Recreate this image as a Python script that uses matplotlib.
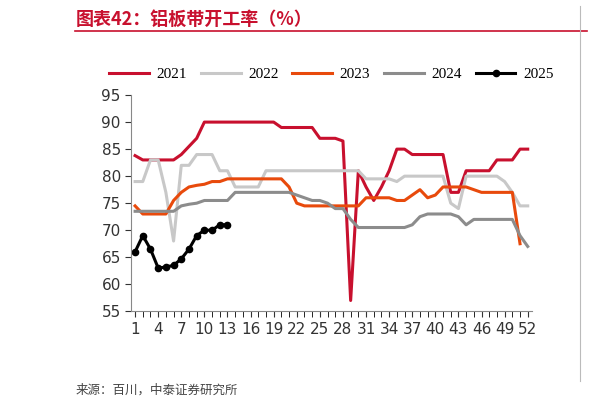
import numpy as np
import matplotlib
matplotlib.use("Agg")
import matplotlib.pyplot as plt
from matplotlib.lines import Line2D

weeks = list(range(1, 53))
nan = np.nan
s2021 = [83.8,83,83,83,83,83,84,85.5,87,90,90,90,90,90,90,90,90,90,90,89,89,89,89,89,87,87,87,86.5,57,81,78,75.5,78,81,85,85,84,84,84,84,84,77,77,81,81,81,81,83,83,83,85,85]
s2022 = [79,79,83,83,77,68,82,82,84,84,84,81,81,78,78,78,78,81,81,81,81,81,81,81,81,81,81,81,81,81,79.5,79.5,79.5,79.5,79,80,80,80,80,80,80,75,74,80,80,80,80,80,79,77,74.5,74.5]
s2023 = [74.5,73,73,73,73,75.5,77,78,78.3,78.5,79,79,79.5,79.5,79.5,79.5,79.5,79.5,79.5,79.5,78,75,74.5,74.5,74.5,74.5,74.5,74.5,74.5,74.5,76,76,76,76,75.5,75.5,76.5,77.5,76,76.5,78,78,78,78,77.5,77,77,77,77,77,67.5,nan]
s2024 = [73.5,73.5,73.5,73.5,73.5,73.5,74.5,74.8,75,75.5,75.5,75.5,75.5,77,77,77,77,77,77,77,77,76.5,76,75.5,75.5,75,74,74,72,70.5,70.5,70.5,70.5,70.5,70.5,70.5,71,72.5,73,73,73,73,72.5,71,72,72,72,72,72,72,69,67]
s2025 = [66,69,66.5,63,63.2,63.5,64.7,66.5,69,70,70,71,71]
xticks = list(range(1, 53, 3))

fig = plt.figure(figsize=(6.02, 4.08), dpi=100)
ax = fig.add_axes([0.218, 0.237, 0.665, 0.53])
ax.plot(weeks, s2021, color="#C8102E", lw=2.2, label="2021")
ax.plot(weeks, s2022, color="#C8C8C8", lw=2.2, label="2022")
ax.plot(weeks, s2023, color="#E84A0C", lw=2.2, label="2023")
ax.plot(weeks, s2024, color="#8C8C8C", lw=2.2, label="2024")
ax.plot(weeks[:len(s2025)], s2025, color="black", lw=2.2, marker="o", ms=4.5, label="2025")
ax.set_ylim(55, 95)
ax.set_yticks(range(55, 96, 5))
ax.set_xlim(0.5, 52.5)
ax.set_xticks(xticks)
ax.set_xticks(weeks, minor=True)
ax.tick_params(axis="both", labelsize=11, colors="#333333", length=4)
ax.tick_params(axis="x", which="minor", length=4)
for s in ["top", "right"]:
    ax.spines[s].set_visible(False)
for s in ["left", "bottom"]:
    ax.spines[s].set_color("#888888")
ax.legend(ncol=5, loc="lower center", bbox_to_anchor=(0.5, 1.0), frameon=False,
          handlelength=2.6, columnspacing=0.9, handletextpad=0.5,
          prop={"family": "Liberation Serif", "size": 11})
fig.text(0.125, 0.94, "图表42：铝板带开工率（%）", color="#C8102E", fontsize=13,
         fontweight="bold", style="italic", family="Noto Sans CJK SC")
fig.add_artist(Line2D([0.125, 0.975], [0.925, 0.925], color="#C8102E", lw=1.2))
fig.add_artist(Line2D([0.963, 0.963], [0.065, 0.985], color="#BBBBBB", lw=0.8))
fig.text(0.125, 0.035, "来源：百川，中泰证券研究所", fontsize=9, color="#444444",
         family="Noto Sans CJK SC")
fig.savefig("out.png", dpi=100)
